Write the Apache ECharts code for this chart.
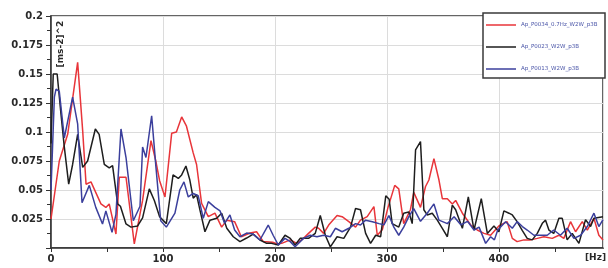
<!DOCTYPE html>
<html>
<head>
<meta charset="utf-8">
<script src="https://cdn.jsdelivr.net/npm/echarts@6/dist/echarts.min.js"></script>
<style>
  html, body { margin: 0; padding: 0; background: #fff; }
  #chart { width: 608px; height: 268px; }
</style>
</head>
<body>
<div id="chart"></div>
<script>
// series names (legend)
const seriesNames = ['Ap_P0034_0.7Hz_W2W_p3B', 'Ap_P0023_W2W_p3B', 'Ap_P0013_W2W_p3B']

// red
const redHz = [0, 7.4, 14.9, 23.8, 28.3, 31.3, 35.7, 44.6, 49, 52, 58, 61, 67, 74.4, 81.8, 89.3, 93.6, 97, 101.8, 107.8,
  112, 116.7, 121, 127, 130, 134.5, 140.5, 146.4, 152.4, 157, 164, 170, 177.7, 183.6, 189.6, 198, 202, 206, 213.7, 219.6,
  225.5, 230, 236, 239, 243.5, 248, 255.5, 260, 266, 272, 276.4, 282.4, 288.4, 291.4, 296, 301, 307, 310.6, 315, 321,
  324, 330, 334.5, 337.5, 342, 346.5, 349.5, 354, 358.4, 361.4, 367.4, 374.7, 380.7, 386.7, 392.6, 400, 407.4, 412, 416.3, 422.3,
  428.3, 434.3, 440.2, 447.7, 453.6, 458, 464, 468.5, 474.5, 479, 484.9, 489.3, 493]
const redVal = [0.025, 0.075, 0.098, 0.16, 0.101, 0.055, 0.057, 0.038, 0.035, 0.038, 0.012, 0.061, 0.061, 0.0035, 0.041, 0.0925, 0.075, 0.058, 0.044, 0.099,
  0.1, 0.113, 0.105, 0.082, 0.072, 0.0385, 0.027, 0.03, 0.018, 0.024, 0.0227, 0.0097, 0.0129, 0.014, 0.0055, 0.005, 0.0035, 0.004, 0.007, 0.004,
  0.0083, 0.0126, 0.018, 0.017, 0.0126, 0.0198, 0.028, 0.027, 0.0227, 0.018, 0.024, 0.027, 0.0356, 0.011, 0.016, 0.035, 0.054, 0.051, 0.021, 0.033,
  0.048, 0.035, 0.053, 0.0586, 0.077, 0.0586, 0.0425, 0.0425, 0.038, 0.041, 0.03, 0.02, 0.0155, 0.0126, 0.011, 0.019, 0.0227, 0.0083, 0.0055, 0.007,
  0.007, 0.0083, 0.0097, 0.0083, 0.011, 0.0083, 0.0227, 0.014, 0.0227, 0.0155, 0.0256, 0.011, 0.007]

// black
const blackHz = [0, 2, 5.5, 8.9, 11.9, 15.8, 19.3, 23.8, 28.3, 32.7, 39.6, 43, 47.6, 52, 55, 59.5, 62, 67, 71.4, 77.4,
  81.8, 87.8, 92.3, 97, 103, 109, 113.7, 116.7, 120.5, 124, 127, 130, 133, 137.5, 142, 148, 152.4, 157, 162.8, 168.75,
  174.7, 180.6, 186.6, 192.6, 197, 203, 209, 213.7, 218, 222.5, 230, 236, 240.5, 245, 249.5, 255.5, 261.5, 267.5, 272, 276.4,
  281, 285.4, 290, 294.4, 299, 302, 304.7, 310.6, 315, 319.6, 322.6, 325.6, 330, 333, 336, 340.5, 345, 349.5, 354, 358.4,
  361.4, 367.4, 372.7, 377.8, 384.3, 389.7, 395.6, 400, 404.5, 409, 412, 416.3, 421, 425.3, 429.8, 434.3, 438.8, 441.7, 444.7, 449,
  453.6, 456.6, 461, 465.5, 471.5, 477.4, 481.9, 484.9, 493]
const blackVal = [0.09, 0.15, 0.15, 0.1155, 0.087, 0.055, 0.072, 0.098, 0.0695, 0.075, 0.1026, 0.098, 0.072, 0.069, 0.071, 0.038, 0.036, 0.0207, 0.018, 0.019,
  0.026, 0.051, 0.041, 0.027, 0.021, 0.063, 0.06, 0.063, 0.0707, 0.0586, 0.043, 0.046, 0.0328, 0.014, 0.024, 0.0256, 0.03, 0.017, 0.0097, 0.0055,
  0.0086, 0.012, 0.0069, 0.004, 0.004, 0.0026, 0.011, 0.0083, 0.0026, 0.0083, 0.0083, 0.0126, 0.028, 0.011, 0.001, 0.0097, 0.0083, 0.018, 0.034, 0.033,
  0.0126, 0.004, 0.011, 0.0097, 0.045, 0.042, 0.021, 0.018, 0.03, 0.031, 0.021, 0.0845, 0.0917, 0.033, 0.0285, 0.03, 0.024, 0.017, 0.0097, 0.037,
  0.033, 0.017, 0.044, 0.0155, 0.0425, 0.0126, 0.019, 0.014, 0.032, 0.03, 0.0285, 0.0227, 0.015, 0.0083, 0.007, 0.0126, 0.0213, 0.024, 0.0155, 0.0126,
  0.0256, 0.0256, 0.007, 0.0126, 0.004, 0.0245, 0.0185, 0.0256, 0.027]

// blue
const blueHz = [0, 3, 4.5, 7.4, 11.9, 19.3, 23.8, 27.7, 34.2, 40, 46, 49, 54.5, 58, 62.5, 67, 73.5, 79.5, 81.8, 84.8,
  89.9, 93.75, 98, 103, 110.7, 115, 118.75, 122.6, 127, 131.5, 136, 140.5, 146.4, 151, 155, 159.8, 164, 168.75, 174.7, 180.6,
  186.6, 194, 198.4, 203, 209, 213.7, 218, 225.5, 231.5, 237.5, 243.5, 249.5, 254, 260, 266, 272, 276.4, 281, 287, 293,
  297.3, 301.8, 306.2, 310.6, 315, 319.6, 324, 330, 336, 342, 346.5, 354, 360, 366, 372, 377.8, 382.3, 388.2, 392.6, 396,
  399, 406, 412, 416.3, 421, 425.3, 431.3, 437.3, 443.2, 449, 455, 461, 467, 473, 479, 484.9, 489.3, 493]
const blueVal = [0.05, 0.13, 0.137, 0.135, 0.095, 0.13, 0.107, 0.039, 0.054, 0.035, 0.0207, 0.032, 0.0135, 0.029, 0.1026, 0.078, 0.0235, 0.036, 0.087, 0.078,
  0.114, 0.0695, 0.0235, 0.018, 0.03, 0.05, 0.057, 0.044, 0.047, 0.045, 0.0256, 0.04, 0.035, 0.032, 0.0213, 0.0285, 0.0155, 0.0097, 0.0129, 0.012,
  0.0069, 0.0198, 0.011, 0.0026, 0.0083, 0.0055, 0.001, 0.0083, 0.011, 0.0097, 0.011, 0.0097, 0.017, 0.014, 0.017, 0.021, 0.0198, 0.024, 0.0227, 0.021,
  0.02, 0.028, 0.018, 0.011, 0.018, 0.027, 0.034, 0.023, 0.03, 0.038, 0.024, 0.021, 0.027, 0.02, 0.023, 0.0155, 0.018, 0.004, 0.0097, 0.007,
  0.0155, 0.0227, 0.017, 0.0227, 0.0185, 0.0155, 0.011, 0.011, 0.011, 0.0155, 0.011, 0.017, 0.0083, 0.011, 0.0185, 0.03, 0.0185, 0.0245]

const xLabels = [0, 100, 200, 300, 400]
const yLabels = ['0.025', '0.05', '0.075', '0.1', '0.125', '0.15', '0.175', '0.2']

const colors = ['#e8353a', '#1e1e1e', '#3b3f9c']

const zip = (xs, ys) => xs.map((x, i) => [x, ys[i]])

const chart = echarts.init(document.getElementById('chart'))

const labelFont = {
  fontFamily: 'DejaVu Sans',
  fontWeight: 'bold',
  fontSize: 10,
  color: '#2a2a2a'
}

const option = {
  animation: false,
  color: colors,
  grid: {
    left: 51,
    right: 5,
    top: 16,
    bottom: 20,
    show: true,
    borderColor: '#333',
    borderWidth: 1.5
  },
  legend: {
    orient: 'vertical',
    left: 486,
    top: 21,
    padding: 0,
    icon: 'rect',
    itemWidth: 30,
    itemHeight: 1.5,
    itemGap: 14,
    z: 10,
    textStyle: {
      fontSize: 5.5,
      lineHeight: 8,
      color: '#4a55a8',
      fontFamily: 'DejaVu Sans'
    },
    data: seriesNames
  },
  graphic: [
    {
      type: 'rect',
      z: 5,
      shape: { x: 483, y: 13, width: 122, height: 65 },
      style: { fill: '#fff', stroke: '#3a3a3a', lineWidth: 1.5 }
    },
    {
      type: 'text',
      z: 6,
      x: 61,
      y: 44,
      rotation: Math.PI / 2,
      style: {
        text: '[ms-2]^2',
        fontFamily: 'DejaVu Sans',
        fontWeight: 'bold',
        fontSize: 9,
        fill: '#2a2a2a',
        align: 'center',
        verticalAlign: 'middle'
      }
    },
    {
      type: 'text',
      z: 6,
      x: 606,
      y: 258,
      style: {
        text: '[Hz]',
        fontFamily: 'DejaVu Sans',
        fontWeight: 'bold',
        fontSize: 9,
        fill: '#2a2a2a',
        align: 'right',
        verticalAlign: 'middle'
      }
    }
  ],
  xAxis: [
    {
      type: 'value',
      min: 0,
      max: 493,
      interval: 50,
      axisLine: { lineStyle: { color: '#333', width: 1.5 } },
      axisTick: { show: true, length: 4, lineStyle: { color: '#333' } },
      axisLabel: {
        ...labelFont,
        margin: 6,
        showMaxLabel: false,
        formatter: (v) => (xLabels.includes(v) ? String(v) : '')
      },
      splitLine: { show: false }
    },
    {
      type: 'value',
      min: 0,
      max: 493,
      interval: 100,
      position: 'bottom',
      axisLine: { show: false },
      axisTick: { show: false },
      axisLabel: { show: false },
      splitLine: { show: true, lineStyle: { color: '#dcdcdc', width: 1 } }
    }
  ],
  yAxis: {
    type: 'value',
    min: 0,
    max: 0.2,
    interval: 0.025,
    axisLine: { show: true, lineStyle: { color: '#333', width: 1.5 } },
    axisTick: { show: true, length: 5, lineStyle: { color: '#333' } },
    minorTick: { show: true, splitNumber: 2, length: 4, lineStyle: { color: '#333' } },
    axisLabel: {
      ...labelFont,
      margin: 8,
      formatter: (v) => {
        const s = String(+v.toFixed(4))
        return yLabels.includes(s) ? s : ''
      }
    },
    splitLine: { show: true, lineStyle: { color: '#dcdcdc', width: 1 } }
  },
  series: [
    { name: seriesNames[0], type: 'line', symbol: 'none', data: zip(redHz, redVal), lineStyle: { width: 1.5 } },
    { name: seriesNames[1], type: 'line', symbol: 'none', data: zip(blackHz, blackVal), lineStyle: { width: 1.5 } },
    { name: seriesNames[2], type: 'line', symbol: 'none', data: zip(blueHz, blueVal), lineStyle: { width: 1.5 } }
  ]
}

chart.setOption(option)
</script>
</body>
</html>
